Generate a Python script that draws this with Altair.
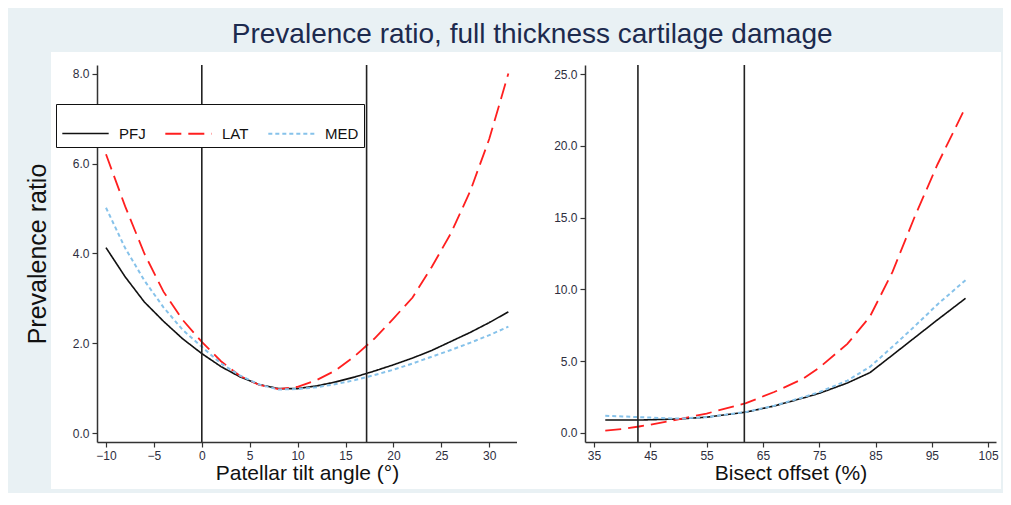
import altair as alt
import pandas as pd

# ---------------- data ----------------
series = ["PFJ", "LAT", "MED"]
colors = ["#111111", "#ff1f1f", "#86c2ea"]
dashes = [[1, 0], [16, 7], [4, 3]]
widths = [1.6, 2.0, 2.0]

tilt_x = [-10, -8, -6, -4, -2, 0, 2, 4, 6, 8, 10, 12, 14, 16, 18, 20, 22, 24, 26, 28, 30, 32]
tilt_pfj = [4.13, 3.48, 2.92, 2.49, 2.10, 1.77, 1.48, 1.25, 1.08, 0.99, 0.99, 1.05, 1.14, 1.25, 1.38, 1.52, 1.67, 1.84, 2.04, 2.24, 2.46, 2.70]
tilt_lat = [6.21, 5.05, 4.00, 3.15, 2.52, 2.03, 1.60, 1.27, 1.07, 0.98, 1.03, 1.18, 1.40, 1.72, 2.10, 2.55, 3.02, 3.70, 4.45, 5.38, 6.55, 8.01]
tilt_med = [5.02, 4.12, 3.40, 2.80, 2.30, 1.92, 1.55, 1.28, 1.08, 0.97, 0.98, 1.02, 1.09, 1.18, 1.29, 1.41, 1.55, 1.70, 1.85, 2.01, 2.18, 2.37]
tilt_ref = [0, 17.2]
tilt_ticks = [-10, -5, 0, 5, 10, 15, 20, 25, 30]
tilt_yticks = [0, 2, 4, 6, 8]

off_x = [37, 40, 43, 45, 50, 55, 62, 67, 72, 75, 80, 84, 88, 92, 96, 101]
off_pfj = [0.90, 0.90, 0.90, 0.92, 0.97, 1.10, 1.45, 1.88, 2.42, 2.76, 3.48, 4.20, 5.42, 6.65, 7.88, 9.38]
off_lat = [0.16, 0.28, 0.45, 0.58, 0.95, 1.35, 2.08, 2.85, 3.75, 4.55, 6.20, 8.10, 11.20, 15.10, 18.70, 22.70]
off_med = [1.20, 1.15, 1.10, 1.07, 1.00, 1.10, 1.46, 1.90, 2.47, 2.84, 3.65, 4.60, 6.00, 7.45, 8.95, 10.65]
off_ref = [42.8, 61.7]
off_ticks = [35, 45, 55, 65, 75, 85, 95, 105]
off_yticks = [0, 5, 10, 15, 20, 25]

title_text = "Prevalence ratio, full thickness cartilage damage"
font = "Liberation Sans"


def long_df(xs, groups):
    rows = []
    for name, ys in zip(series, groups):
        for x, y in zip(xs, ys):
            rows.append({"x": x, "y": y, "series": name})
    return pd.DataFrame(rows)


tilt_df = long_df(tilt_x, [tilt_pfj, tilt_lat, tilt_med])
off_df = long_df(off_x, [off_pfj, off_lat, off_med])

W1, W2, H = 420, 411, 377

axis_style = dict(zindex=1, grid=False, domainColor="#333333", domainWidth=1.5, tickColor="#333333",
                  tickWidth=1.2, tickSize=5, labelFont=font, labelFontSize=12, labelColor="#2e2e3e",
                  labelPadding=3, titleFont=font, titleFontWeight="normal", titleColor="#111111")


def panel(df, refs, xdomain, ydomain, xticks, yticks, xtitle, ytitle, width, bg_x, bg_x2, show_legend):
    xenc = alt.X("x:Q", scale=alt.Scale(domain=xdomain, nice=False, zero=False),
                 axis=alt.Axis(values=xticks, title=xtitle, titleFontSize=21, titlePadding=1, **axis_style))
    if ytitle:
        yaxis = alt.Axis(values=yticks, format=".1f", title=ytitle, titleFontSize=25, titlePadding=22, **axis_style)
    else:
        yaxis = alt.Axis(values=yticks, format=".1f", title=None, **axis_style)
    yenc = alt.Y("y:Q", scale=alt.Scale(domain=ydomain, nice=False, zero=False), axis=yaxis)
    if show_legend:
        legend = alt.Legend(orient="none", legendX=-41, legendY=39, direction="horizontal", columns=3,
                            title=None, zindex=2, fillColor="white", strokeColor="#111111", padding=5,
                            symbolType="stroke", symbolSize=2150, symbolStrokeWidth=2, labelFont=font,
                            labelFontSize=15, labelColor="#111111", labelOffset=9, columnPadding=15)
    else:
        legend = None
    bg = alt.Chart(pd.DataFrame({"k": [0]})).mark_rect(color="white").encode(
        x=alt.value(bg_x), x2=alt.value(bg_x2), y=alt.value(-13), y2=alt.value(H + 47))
    lines = alt.Chart(df).mark_line().encode(
        x=xenc, y=yenc,
        color=alt.Color("series:N", scale=alt.Scale(domain=series, range=colors), legend=legend),
        strokeDash=alt.StrokeDash("series:N", scale=alt.Scale(domain=series, range=dashes), legend=legend),
        strokeWidth=alt.StrokeWidth("series:N", scale=alt.Scale(domain=series, range=widths), legend=None),
    )
    rules = alt.Chart(pd.DataFrame({"x": refs})).mark_rule(color="#222222", strokeWidth=1.6).encode(x=xenc)
    return alt.layer(bg, lines, rules).properties(width=width, height=H)


left = panel(tilt_df, tilt_ref, [-10.94, 32.9], [-0.2, 8.2], tilt_ticks, tilt_yticks,
             "Patellar tilt angle (°)", "Prevalence ratio", W1, -46, W1, True)
right = panel(off_df, off_ref, [33.4, 106.4], [-0.63, 25.63], off_ticks, off_yticks,
              "Bisect offset (%)", None, W2, -68, W2 + 5, False)

chart = alt.hconcat(left, right, spacing=0).resolve_scale(
    color="independent", strokeDash="independent", strokeWidth="independent"
).resolve_legend(
    color="independent", strokeDash="independent"
).properties(
    title=alt.TitleParams(title_text, fontSize=28, font=font, color="#1c2a4e", fontWeight="normal",
                          anchor="middle", offset=3, dx=19)
).configure(
    background="#e9f1f4", padding={"left": 17, "top": 13, "right": 2, "bottom": 4}
).configure_view(
    stroke=None
)

chart.save("out.html", embed_options={"renderer": "svg", "actions": False})
